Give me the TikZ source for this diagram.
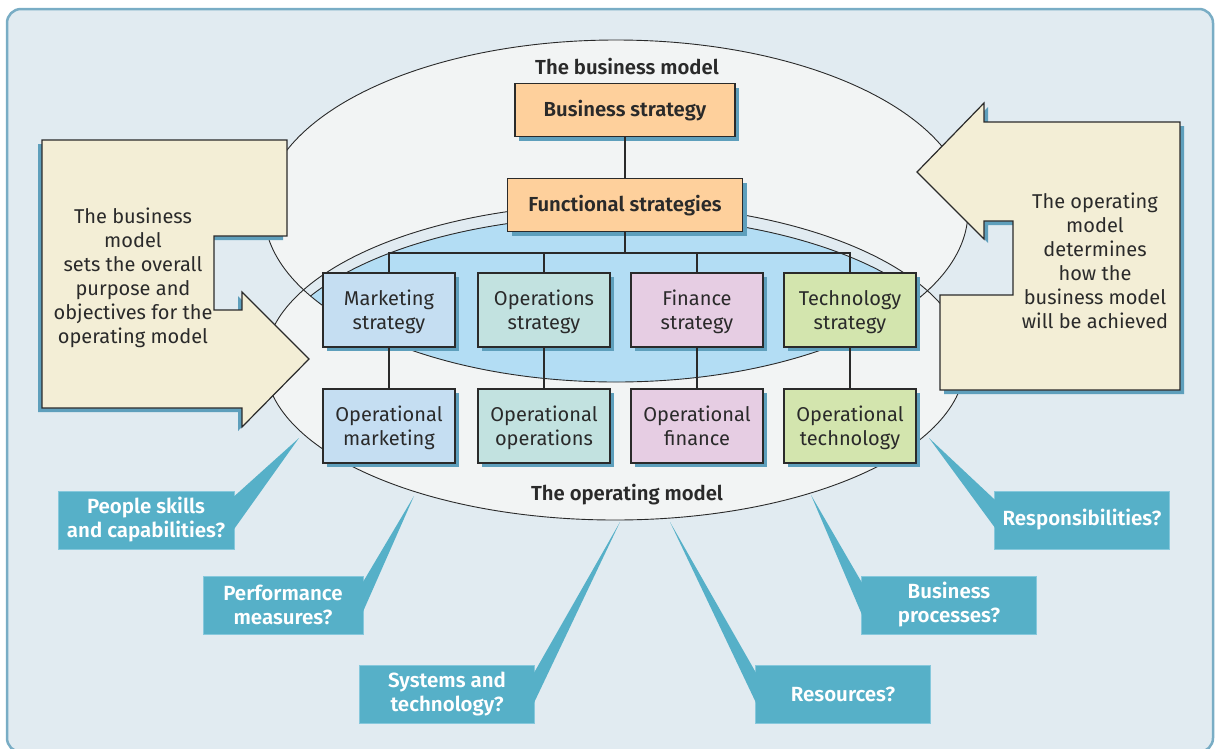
\documentclass[tikz,border=0pt]{standalone}
\usepackage{fontspec}
\setmainfont{Fira Sans}[BoldFont={Fira Sans SemiBold}]
\usetikzlibrary{positioning,shadows}

\definecolor{framefill}{HTML}{E1EBF1}
\definecolor{frameline}{HTML}{79ADC5}
\definecolor{ovalfill}{HTML}{F2F4F4}
\definecolor{bluefill}{HTML}{B3DDF4}
\definecolor{peach}{HTML}{FED09C}
\definecolor{mktblue}{HTML}{C5DEF2}
\definecolor{opsgreen}{HTML}{C2E2E0}
\definecolor{finpink}{HTML}{E6CDE3}
\definecolor{tecgreen}{HTML}{D3E5AE}
\definecolor{shadowblue}{HTML}{5E9FBC}
\definecolor{cream}{HTML}{F3EED6}
\definecolor{teal}{HTML}{56B0C8}
\definecolor{tealedge}{HTML}{86C8DC}
\definecolor{ink}{HTML}{2A2A2A}

\newcommand{\toprule}{\rule{0pt}{22.8pt}}

\tikzset{
  boxshadow/.style={drop shadow={shadow xshift=4pt, shadow yshift=-4pt, opacity=1, fill=shadowblue}},
  topbox/.style={draw=ink, line width=1.2pt, fill=peach, boxshadow, minimum height=53pt,
    font=\fontsize{20.3}{24}\selectfont\bfseries, text=ink},
  stratbox/.style={draw=ink, line width=1.2pt, boxshadow, minimum width=132pt, minimum height=74pt,
    align=center, font=\fontsize{20}{24}\selectfont, text=ink},
  qbox/.style={fill=teal, draw=tealedge, line width=0.8pt, minimum width=176pt, minimum height=58pt,
    align=center, font=\fontsize{20.5}{24}\selectfont\bfseries, text=white},
  conn/.style={draw=ink, line width=1.5pt},
  oval/.style={draw=ink, line width=0.9pt},
  note/.style={align=center, font=\fontsize{20}{24}\selectfont, text=ink}
}

\begin{document}
\begin{tikzpicture}[x=1pt,y=-1pt]
  \useasboundingbox (0,0) rectangle (1216,748);

  % frame
  \draw[frameline, fill=framefill, line width=2.5pt, rounded corners=14pt] (7,9) rectangle (1213,752);

  % the two models
  \fill[ovalfill] (616,211) ellipse [x radius=352, y radius=171];
  \fill[ovalfill] (615,362) ellipse [x radius=350, y radius=158];
  \begin{scope}
    \clip (616,211) ellipse [x radius=352, y radius=171];
    \fill[framefill] (615,362) ellipse [x radius=350, y radius=158];
    \fill[bluefill] (615,374) ellipse [x radius=350, y radius=158];
    \draw[oval] (615,374) ellipse [x radius=350, y radius=158];
  \end{scope}
  \draw[oval] (615,362) ellipse [x radius=350, y radius=158];
  \draw[oval] (616,211) ellipse [x radius=352, y radius=171];

  \node[font=\fontsize{20.3}{24}\selectfont\bfseries, text=ink] (bmlabel) at (627,67) {The business model};
  \node[font=\fontsize{20.3}{24}\selectfont\bfseries, text=ink] (omlabel) at (627,495) {The operating model};

  % strategy tree
  \node[topbox, minimum width=220pt] (bizstrat) at (625,110) {\rule{0pt}{17pt}Business strategy};
  \node[topbox, minimum width=235pt] (funcstrat) at (625,205) {\rule{0pt}{17pt}Functional strategies};

  \node[stratbox, fill=mktblue] (mkt) at (389,310) {\toprule Marketing\\strategy\strut};
  \node[stratbox, fill=opsgreen] (ops) at (544,310) {\toprule Operations\\strategy\strut};
  \node[stratbox, fill=finpink] (fin) at (697,310) {\toprule Finance\\strategy\strut};
  \node[stratbox, fill=tecgreen] (tec) at (850,310) {\toprule Technology\\strategy\strut};

  \node[stratbox, fill=mktblue] (opmkt) at (389,426) {\toprule Operational\\marketing\strut};
  \node[stratbox, fill=opsgreen] (opops) at (544,426) {\toprule Operational\\operations\strut};
  \node[stratbox, fill=finpink] (opfin) at (697,426) {\toprule Operational\\finance\strut};
  \node[stratbox, fill=tecgreen] (optec) at (850,426) {\toprule Operational\\technology\strut};

  \draw[conn] (bizstrat.south) -- (funcstrat.north);
  \draw[conn] (funcstrat.south) -- ++(0,21) coordinate (bus);
  \draw[conn] (mkt.north) -- (mkt.north |- bus) -- (tec.north |- bus) -- (tec.north);
  \draw[conn] (ops.north) -- (ops.north |- bus);
  \draw[conn] (fin.north) -- (fin.north |- bus);
  \foreach \s/\o in {mkt/opmkt, ops/opops, fin/opfin, tec/optec}
    \draw[conn] (\s.south) -- (\o.north);

  % callout arrows
  \path[draw=ink, line width=1.2pt, fill=cream,
        drop shadow={shadow xshift=-4pt, shadow yshift=-4pt, opacity=1, fill=shadowblue}]
    (42,140) -- (287,140) -- (287,236) -- (214,236) -- (214,310) -- (242,310) -- (242,292)
    -- (309,359) -- (242,427) -- (242,408) -- (42,408) -- cycle;
  \node[note] (bmnote) at (133,278) {The business\\model\\sets the overall\\purpose and\\objectives for the\\operating model};

  \path[draw=ink, line width=1.2pt, fill=cream, boxshadow]
    (917,172) -- (984,103) -- (984,122) -- (1180,122) -- (1180,390) -- (940,390) -- (940,295)
    -- (1013,295) -- (1013,221) -- (984,221) -- (984,239) -- cycle;
  \node[note] (omnote) at (1095,261) {The operating\\model\\determines\\how the\\business model\\will be achieved};

  % questions
  \coordinate (tpeople) at (299,438);
  \coordinate (tperf) at (414,496);
  \coordinate (tsys) at (620,522);
  \coordinate (tres) at (670,522);
  \coordinate (tproc) at (811,495);
  \coordinate (tresp) at (929,438);

  \node[qbox] (people) at (146,520) {People skills\\and capabilities?};
  \node[qbox, minimum width=160pt] (perf) at (283,605) {Performance\\measures?};
  \node[qbox, minimum width=175pt] (sys) at (447,694) {Systems and\\technology?};
  \node[qbox, minimum width=175pt] (res) at (843,694) {Resources?};
  \node[qbox, minimum width=175pt] (proc) at (949,605) {Business\\processes?};
  \node[qbox, minimum width=175pt] (resp) at (1082,520) {Responsibilities?};

  \fill[teal] ([xshift=-1pt]people.east |- 0,497) -- (tpeople) -- ([xshift=-1pt]people.east |- 0,530) -- cycle;
  \fill[teal] ([xshift=-1pt]perf.east |- 0,583) -- (tperf) -- ([xshift=-1pt]perf.east |- 0,613) -- cycle;
  \fill[teal] ([xshift=-1pt]sys.east |- 0,673) -- (tsys) -- ([xshift=-1pt]sys.east |- 0,703) -- cycle;
  \fill[teal] ([xshift=1pt]res.west |- 0,673) -- (tres) -- ([xshift=1pt]res.west |- 0,703) -- cycle;
  \fill[teal] ([xshift=1pt]proc.west |- 0,583) -- (tproc) -- ([xshift=1pt]proc.west |- 0,615) -- cycle;
  \fill[teal] ([xshift=1pt]resp.west |- 0,500) -- (tresp) -- ([xshift=1pt]resp.west |- 0,528) -- cycle;
\end{tikzpicture}
\end{document}
